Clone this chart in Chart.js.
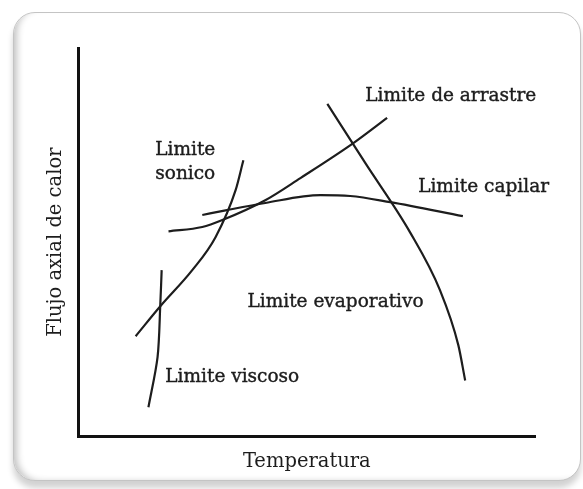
<!DOCTYPE html>
<html>
<head>
<meta charset="utf-8">
<script src="https://cdn.jsdelivr.net/npm/chart.js@4.4.1/dist/chart.umd.min.js"></script>
<style>
  html, body { margin: 0; padding: 0; background: #fff; }
  #wrap { position: relative; width: 583px; height: 489px; overflow: hidden; }
  #frame {
    position: absolute; left: 13px; top: 12px; width: 566px; height: 467px;
    border: 1px solid #c4c4c4; border-radius: 22px; background: #fff;
    box-shadow: inset 7px -2px 7px -4px rgba(0,0,0,0.24), 0 7px 6px rgba(0,0,0,0.18);
  }
  #my-chart { position: absolute; left: 0; top: 0; }
</style>
</head>
<body>
<div id="wrap">
  <div id="frame"></div>
  <canvas id="my-chart" width="583" height="489"></canvas>
</div>
<script>
// curves, in axis units (0-100 on both axes)
const viscosoX = [18.2, 17.9, 17.3, 15.3];
const viscosoY = [42.8, 34.0, 20.4, 7.5];

const sonicoX = [12.5, 17.9, 24.9, 30.0, 34.4, 36.1];
const sonicoY = [25.8, 33.5, 42.8, 51.3, 63.4, 71.1];

const arrastreX = [19.7, 27.1, 31.5, 40.9, 48.6, 60.2, 67.6];
const arrastreY = [52.8, 53.9, 55.7, 60.8, 66.5, 75.5, 82.0];

const capilarX = [27.1, 32.2, 40.9, 53.0, 59.5, 68.3, 84.2];
const capilarY = [57.0, 58.2, 60.1, 62.1, 61.9, 60.3, 56.7];

const evaporativoX = [54.5, 62.8, 72.6, 79.2, 83.2, 84.7];
const evaporativoY = [85.6, 70.4, 52.6, 37.6, 23.5, 14.4];

const curveNames = ["Limite viscoso", "Limite sonico", "Limite de arrastre", "Limite capilar", "Limite evaporativo"];

const xTitle = "Temperatura";
const yTitle = "Flujo axial de calor";

const toPoints = (xs, ys) => xs.map((x, i) => ({ x: x, y: ys[i] }));

const curves = [
  toPoints(viscosoX, viscosoY),
  toPoints(sonicoX, sonicoY),
  toPoints(arrastreX, arrastreY),
  toPoints(capilarX, capilarY),
  toPoints(evaporativoX, evaporativoY),
];

const textFont = "'DejaVu Serif', 'Liberation Serif', serif";
const ink = "#1d1d1d";

// labels placed next to the curves (left edge, vertical middle)
const curveLabels = [
  { text: "Limite de arrastre", x: 62.8, y: 87.6 },
  { text: "Limite", x: 16.8, y: 73.7 },
  { text: "sonico", x: 16.8, y: 67.5 },
  { text: "Limite capilar", x: 74.4, y: 64.2 },
  { text: "Limite evaporativo", x: 37.0, y: 34.5 },
  { text: "Limite viscoso", x: 19.0, y: 15.2 },
];

const labelPlugin = {
  id: "curveLabels",
  afterDatasetsDraw(chart) {
    const ctx = chart.ctx;
    const xs = chart.scales.x;
    const ys = chart.scales.y;
    ctx.save();
    ctx.font = "18.5px " + textFont;
    ctx.fillStyle = ink;
    ctx.strokeStyle = ink;
    ctx.lineWidth = 0.4;
    ctx.textAlign = "left";
    ctx.textBaseline = "middle";
    curveLabels.forEach((l) => {
      const px = xs.getPixelForValue(l.x);
      const py = ys.getPixelForValue(l.y);
      ctx.fillText(l.text, px, py);
      ctx.strokeText(l.text, px, py);
    });
    ctx.restore();
  },
};

const ctx = document.getElementById("my-chart").getContext("2d");

const chart = new Chart(ctx, {
  type: "scatter",
  data: {
    datasets: curves.map((pts, i) => ({
      label: curveNames[i],
      data: pts,
      showLine: true,
      tension: 0.3,
      cubicInterpolationMode: i === 0 ? "default" : "monotone",
      borderColor: ink,
      borderWidth: 2.2,
      pointRadius: 0,
      fill: false,
    })),
  },
  options: {
    responsive: false,
    animation: false,
    layout: { padding: { left: 41, right: 48, top: 48, bottom: 9 } },
    plugins: {
      legend: { display: false },
      tooltip: { enabled: false },
    },
    scales: {
      x: {
        type: "linear",
        min: 0,
        max: 100,
        grid: { display: false, drawTicks: false },
        border: { display: true, color: "#111", width: 3 },
        ticks: { display: false },
        title: {
          display: true,
          text: xTitle,
          color: ink,
          font: { family: textFont, size: 19.5 },
          padding: { top: 14, bottom: 6.2 },
        },
      },
      y: {
        type: "linear",
        min: 0,
        max: 100,
        grid: { display: false, drawTicks: false },
        border: { display: true, color: "#111", width: 3 },
        ticks: { display: false },
        title: {
          display: true,
          text: yTitle,
          color: ink,
          font: { family: textFont, size: 19.5 },
          padding: { top: 3, bottom: 11.2 },
        },
      },
    },
  },
  plugins: [labelPlugin],
});
</script>
</body>
</html>
